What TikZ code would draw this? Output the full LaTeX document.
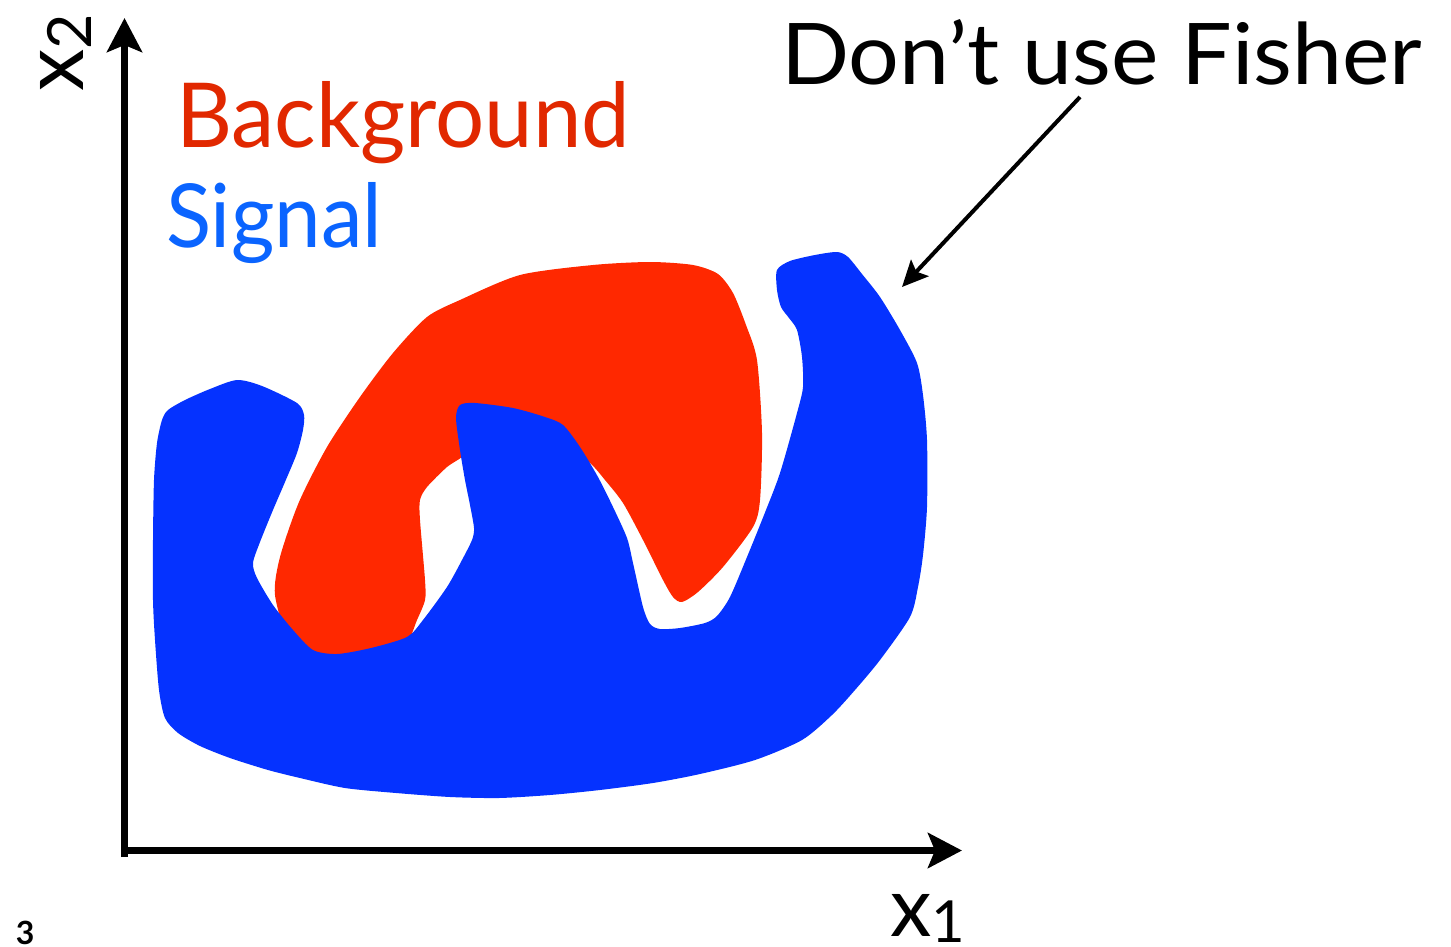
\documentclass[tikz,border=0pt]{standalone}
\usepackage{fontspec}
\setmainfont{Lato}
\usetikzlibrary{arrows.meta}
\definecolor{bgred}{RGB}{255,40,0}
\definecolor{sigblue}{RGB}{5,50,255}
\definecolor{bgtext}{RGB}{225,40,0}
\definecolor{sigtext}{RGB}{10,100,255}
\begin{document}
\begin{tikzpicture}[x=1pt,y=-1pt,
  axisline/.style={line width=7pt, -{Stealth[length=34pt,width=35pt,inset=7pt]}},
  pointer/.style={line width=4pt, -{Stealth[length=26pt,width=24pt,inset=5pt]}},
  txt/.style={inner sep=0pt, outer sep=0pt},
  blob/.style={smooth cycle, tension=0.45}]
\useasboundingbox (0,0) rectangle (1451,947);

% background region (red)
\fill[bgred] plot[blob] coordinates {
 (275,595) (280,557) (299,502) (327,447) (360,397) (393,353) (427,317) (460,300)
 (520,275) (593,265) (650,262) (693,265) (718,274) (733,293) (746,325) (757,360)
 (762,433) (760,500) (753,527) (723,567) (698,592) (682,602) (673,597) (663,580)
 (643,540) (623,503) (605,480) (590,463) (560,440) (480,440) (462,457) (447,467)
 (427,487) (420,500) (420,520) (425,580) (425,600) (417,620) (405,645) (370,660)
 (330,665) (290,640)};

% signal region (blue)
\fill[sigblue] plot[blob] coordinates {
 (237,380) (262,386) (297,403) (304,415) (303,430) (297,453) (285,482) (273,510)
 (260,542) (253,563) (257,578) (273,605) (293,630) (313,650) (337,654) (371,648)
 (407,637) (423,620) (447,587) (462,560) (472,540) (474,528) (470,505) (465,480)
 (460,450) (456,418) (460,405) (475,403) (513,408) (545,417) (563,425) (580,447)
 (598,477) (613,507) (627,538) (633,563) (643,607) (650,624) (660,629) (680,628)
 (705,623) (717,616) (730,597) (747,557) (764,515) (780,473) (797,413) (803,387)
 (802,357) (797,330) (789,318) (781,307) (777,290) (777,270) (790,261) (815,255)
 (837,252) (848,257) (862,274) (880,297) (900,330) (917,363) (923,395) (927,440)
 (927,507) (923,555) (918,587) (910,617) (880,660) (855,690) (832,715) (802,740)
 (755,760) (700,774) (653,783) (600,790) (550,795) (499,798) (450,797) (396,793)
 (345,788) (300,778) (268,770) (230,758) (200,746) (178,733) (165,718) (159,690)
 (155,640) (153,600) (153,540) (154,480) (157,443) (162,420) (168,410) (185,400)
 (210,389)};

% axes
\coordinate (origin) at (124.5,857);
\coordinate (ytip) at (124.5,18);
\coordinate (xstart) at (121,850.5);
\coordinate (xtip) at (962,850.5);
\draw[axisline] (origin) -- (ytip);
\draw[axisline] (xstart) -- (xtip);

% labels
\node[txt, anchor=base west, rotate=90] (xtwo) at (83,92)
  {\fontsize{85}{85}\selectfont x\raisebox{-8pt}{\fontsize{61}{61}\selectfont 2}};
\node[txt, anchor=base west] (xone) at (890,936)
  {\fontsize{83}{83}\selectfont x\raisebox{-6pt}{\fontsize{58}{58}\selectfont 1}};
\node[txt, anchor=base west, text=bgtext] (bg) at (176,148)
  {\resizebox{454pt}{66pt}{Background}};
\node[txt, anchor=base west, text=sigtext] (sig) at (166,247)
  {\resizebox{216pt}{65pt}{Signal}};
\node[txt, anchor=base west] (fisher) at (781,85)
  {\resizebox{641pt}{65pt}{Don’t use Fisher}};
\node[txt, anchor=north west] (pagenum) at (16,921)
  {\fontsize{32}{32}\selectfont\bfseries 3};

% pointer arrow
\coordinate (fstart) at (1080,97);
\coordinate (ftip) at (902,287);
\draw[pointer] (fstart) -- (ftip);
\end{tikzpicture}
\end{document}
